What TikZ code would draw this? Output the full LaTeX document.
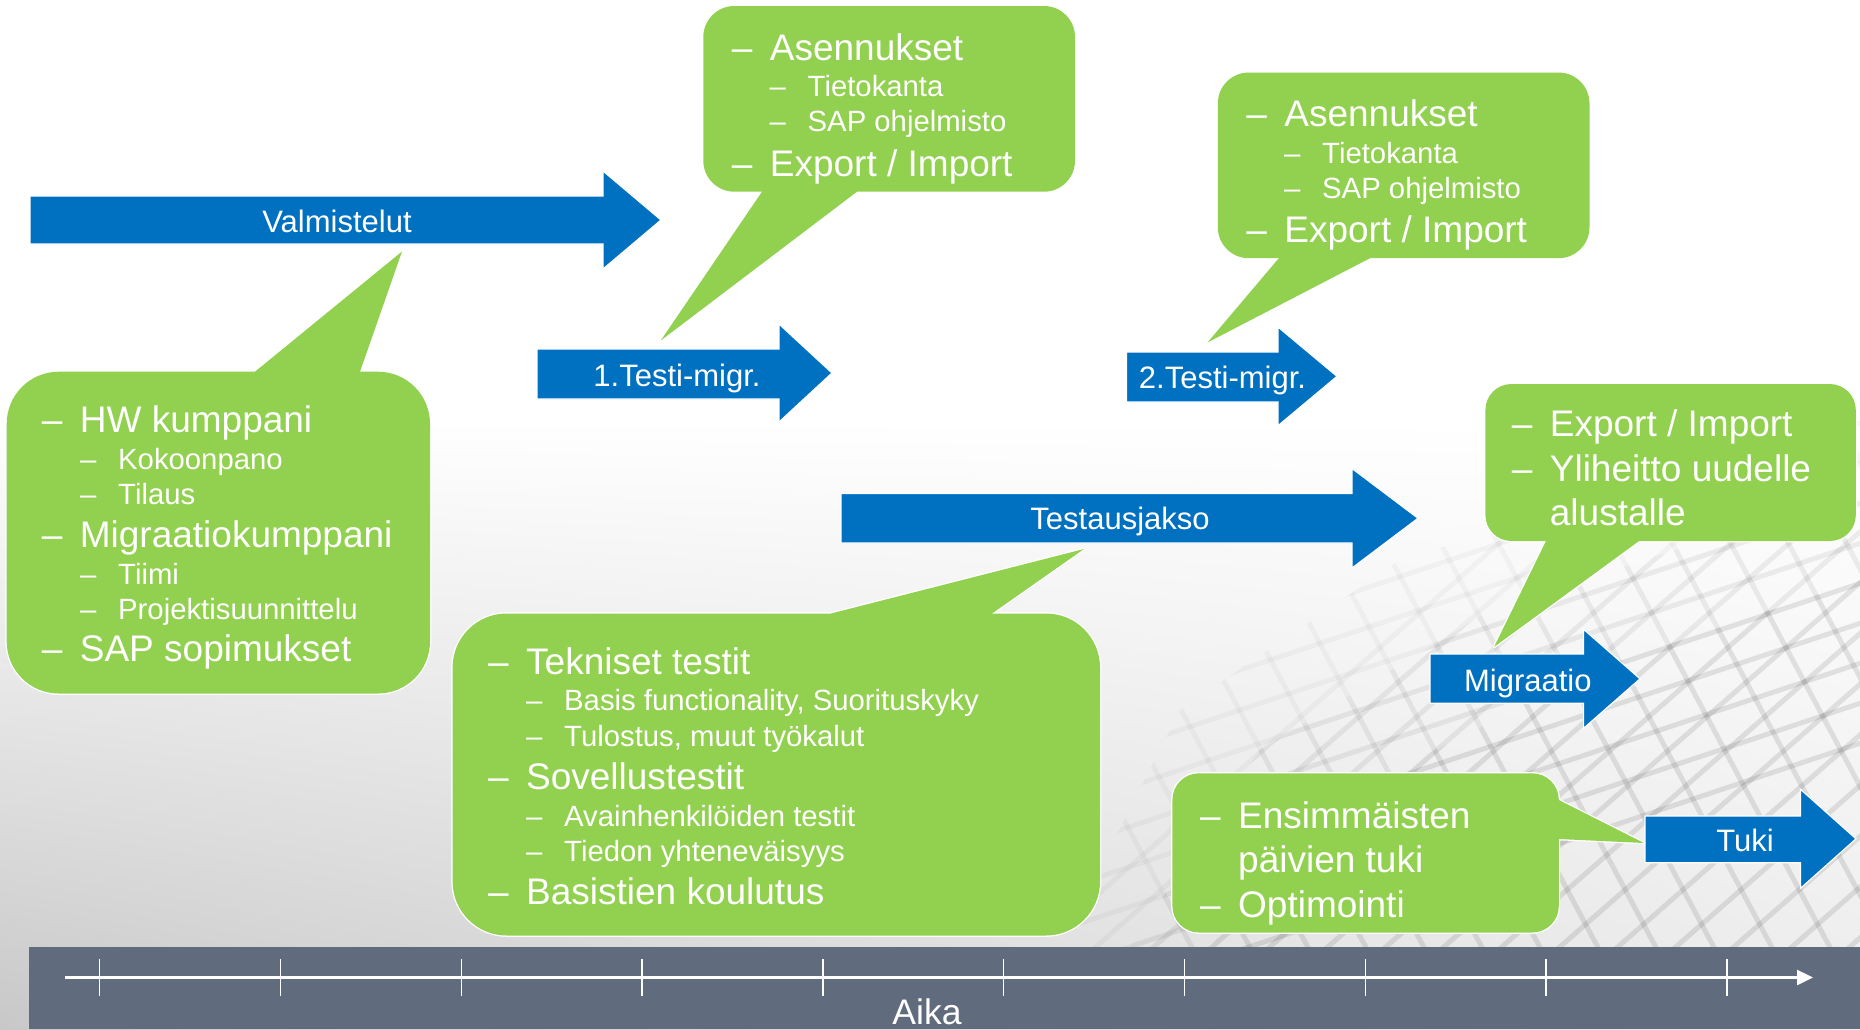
\documentclass[tikz,border=0pt]{standalone}
\usepackage{fontspec}
\setmainfont{Liberation Sans}
\usetikzlibrary{arrows.meta,shadings}
\definecolor{cblue}{RGB}{0,112,192}
\definecolor{cgreen}{RGB}{146,208,80}
\definecolor{cbar}{RGB}{96,108,125}
\definecolor{bggray}{RGB}{200,200,200}
\definecolor{bglight}{RGB}{236,236,236}
\newcommand\dsh{\makebox[38pt][l]{–}}
% #1 x1, #2 y1, #3 x2, #4 y2, #5 radius, #6 pointer polygon
\newcommand\bubbleshape[6]{%
  \path[bubbleedge,rounded corners=#5pt] (#1,#2) rectangle (#3,#4);
  \path[bubbleedge] #6;
  \path[bubblefill,rounded corners=#5pt] (#1,#2) rectangle (#3,#4);
  \path[bubblefill] #6;}
% #1 x0, #2 top, #3 bottom, #4 head base x, #5 head top, #6 head bottom, #7 tip x
\newcommand\blockarrow[7]{%
  \path[bluearrow] (#1,#2) -- (#4,#2) -- (#4,#5) -- ({#7},{(#5+#6)/2}) -- (#4,#6) -- (#4,#3) -- (#1,#3) -- cycle;}
\newcommand\meshlines{%
  \foreach \i in {0,...,24} \draw[meshline] ({900+58*\i},400) -- ++(320,600);
  \foreach \i in {0,...,28} \draw[meshline] ({1000+58*\i},980) -- ++(520,-455);
  \foreach \i in {0,...,14} \draw[meshline] (1000,{470+40*\i}) -- ++(900,-300);}
\begin{document}
\begin{tikzpicture}[x=1pt,y=-1pt,
  bluearrow/.style={fill=cblue, draw=white, line width=1.2pt, line join=miter},
  bubbleedge/.style={draw=white, line width=2.6pt, line join=round},
  bubblefill/.style={fill=cgreen},
  lone/.style={anchor=base west, inner sep=0pt, text=white, font=\fontsize{37}{37}\selectfont},
  ltwo/.style={anchor=base west, inner sep=0pt, text=white, font=\fontsize{29.3}{29.3}\selectfont},
  arrowtext/.style={anchor=base, inner sep=0pt, text=white, font=\fontsize{31}{31}\selectfont},
  meshline/.style={black, opacity=0.03, line width=5pt},
]
\useasboundingbox (0,0) rectangle (1860,1029);
% background
\fill[white] (0,0) rectangle (1860,420);
\shade[upper left=white, upper right=white, lower left=bggray, lower right=bglight] (0,419) rectangle (1860,1029);
% mesh texture bottom right, fading towards the upper left
\begin{scope}
  \clip (1060,947) -- (1180,710) -- (1400,560) -- (1860,420) -- (1860,947) -- cycle;
  \meshlines
\end{scope}
\begin{scope}
  \clip (1130,947) -- (1260,750) -- (1490,610) -- (1860,490) -- (1860,947) -- cycle;
  \meshlines
\end{scope}
\begin{scope}
  \clip (1210,947) -- (1340,800) -- (1590,670) -- (1860,580) -- (1860,947) -- cycle;
  \meshlines
\end{scope}

% bottom time bar
\fill[cbar] (28.5,947) rectangle (1860,1029);
\coordinate (axs) at (65,977.5);
\coordinate (axe) at (1813,977.5);
\draw[white, line width=2.4pt, -{Triangle[length=16pt,width=15pt]}] (axs) -- (axe);
\foreach \i in {0,...,9} \draw[white, line width=1.4pt] ({99.6+180.8*\i},959.3) -- ({99.6+180.8*\i},996);
\node[anchor=base, inner sep=0pt, text=white, font=\fontsize{35.5}{35.5}\selectfont] (aika) at (927,1024) {Aika};

% blue arrows
\blockarrow{30}{196}{244}{603}{171}{269}{661}
\node[arrowtext] (valm) at (337,232) {Valmistelut};
\blockarrow{537}{349}{399}{779}{324}{422}{832}
\node[arrowtext] (test1) at (677,386) {1.Testi-migr.};
\blockarrow{1126.5}{352}{402}{1278}{327}{425.7}{1337}
\node[arrowtext] (test2) at (1222.5,388.5) {2.Testi-migr.};
\blockarrow{841}{493.5}{543}{1352}{468.5}{568}{1418}
\node[arrowtext] (testaus) at (1120,529.5) {Testausjakso};
\blockarrow{1430}{654}{703.3}{1583.6}{629.3}{728.3}{1640}
\node[arrowtext] (migr) at (1527.8,691) {Migraatio};
\blockarrow{1645}{816}{862.7}{1800.5}{789.3}{888.3}{1856}
\node[arrowtext] (tuki) at (1745,851) {Tuki};

% callout 1 : HW kumppani
\bubbleshape{6.7}{371.7}{430}{693.5}{52}{(255,371.7) -- (402,251.5) -- (360,371.7) -- (360,386) -- (255,386) -- cycle}
\node[lone] (c1a) at (41.7,432.7) {\dsh HW kumppani};
\node[ltwo] (c1b) at (80,469.3) {\dsh Kokoonpano};
\node[ltwo] (c1c) at (80,504.3) {\dsh Tilaus};
\node[lone] (c1d) at (41.7,547.7) {\dsh Migraatiokumppani};
\node[ltwo] (c1e) at (80,584.3) {\dsh Tiimi};
\node[ltwo] (c1f) at (80,619.3) {\dsh Projektisuunnittelu};
\node[lone] (c1g) at (41.7,661.7) {\dsh SAP sopimukset};

% callout 2 : Asennukset (1)
\bubbleshape{703.3}{6}{1075}{191.7}{31}{(762,191.7) -- (660.8,340.5) -- (857,191.7) -- (857,178) -- (762,178) -- cycle}
\node[lone] (c2a) at (731.7,60) {\dsh Asennukset};
\node[ltwo] (c2b) at (769.5,96.7) {\dsh Tietokanta};
\node[ltwo] (c2c) at (769.5,131.7) {\dsh SAP ohjelmisto};
\node[lone] (c2d) at (731.7,176) {\dsh Export / Import};

% callout 3 : Asennukset (2)
\bubbleshape{1217.8}{72.5}{1589.5}{258.2}{31}{(1278.8,258.2) -- (1207.5,342.5) -- (1370,258.2) -- (1370,244) -- (1278.8,244) -- cycle}
\node[lone] (c3a) at (1246.2,126.5) {\dsh Asennukset};
\node[ltwo] (c3b) at (1284,163.2) {\dsh Tietokanta};
\node[ltwo] (c3c) at (1284,198.2) {\dsh SAP ohjelmisto};
\node[lone] (c3d) at (1246.2,242.5) {\dsh Export / Import};

% callout 4 : Export / Import, Yliheitto
\bubbleshape{1485.4}{384}{1855.8}{541}{26}{(1546,541) -- (1494,647) -- (1639,541) -- (1639,528) -- (1546,528) -- cycle}
\node[lone] (c4a) at (1511.7,436.5) {\dsh Export / Import};
\node[lone] (c4b) at (1511.7,481) {\dsh Yliheitto uudelle};
\node[lone] (c4c) at (1549.7,525.5) {alustalle};

% callout 5 : Tekniset testit
\bubbleshape{452.6}{613.5}{1100}{935.5}{54}{(831,613.5) -- (1084,549) -- (992,613.5) -- (992,628) -- (831,628) -- cycle}
\node[lone] (c5a) at (488,674) {\dsh Tekniset testit};
\node[ltwo] (c5b) at (526,710.7) {\dsh Basis functionality, Suorituskyky};
\node[ltwo] (c5c) at (526,746) {\dsh Tulostus, muut työkalut};
\node[lone] (c5d) at (488,789.3) {\dsh Sovellustestit};
\node[ltwo] (c5e) at (526,826.7) {\dsh Avainhenkilöiden testit};
\node[ltwo] (c5f) at (526,861) {\dsh Tiedon yhteneväisyys};
\node[lone] (c5g) at (488,904) {\dsh Basistien koulutus};

% callout 6 : Ensimmäisten päivien tuki
\bubbleshape{1172.4}{773.3}{1558.8}{932.5}{26.5}{(1558.8,800) -- (1644,843) -- (1558.8,839) -- (1545,839) -- (1545,800) -- cycle}
\node[lone] (c6a) at (1200,828) {\dsh Ensimmäisten};
\node[lone] (c6b) at (1238,872.5) {päivien tuki};
\node[lone] (c6c) at (1200,917) {\dsh Optimointi};
\end{tikzpicture}
\end{document}
